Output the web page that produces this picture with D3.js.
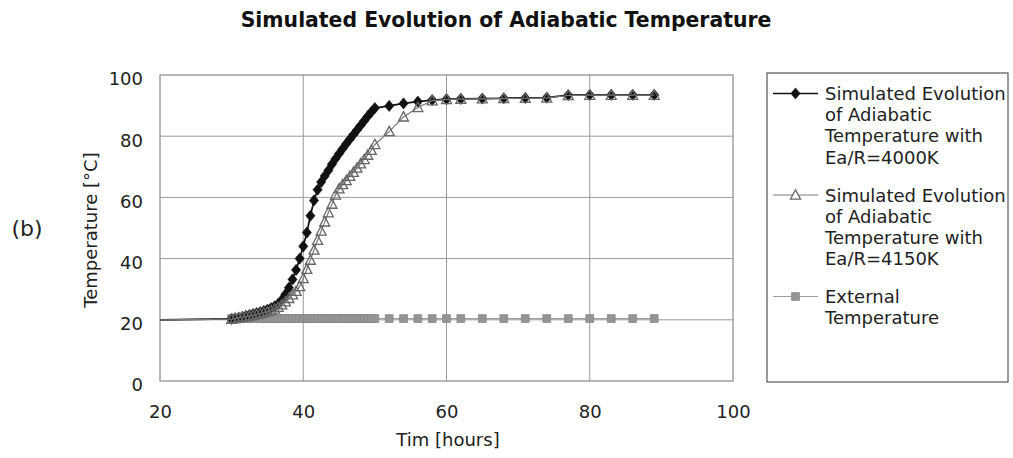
<!DOCTYPE html>
<html>
<head>
<meta charset="utf-8">
<script src="https://cdn.jsdelivr.net/npm/d3@7/dist/d3.min.js"></script>
<style>
  html, body { margin: 0; padding: 0; background: #fff; }
  svg { display: block; font-family: "DejaVu Sans", Verdana, sans-serif; }
</style>
</head>
<body>
<svg id="chart" width="1013" height="458"></svg>
<script>
// ---- data ----
const title = "Simulated Evolution of Adiabatic Temperature";
const xLabel = "Tim [hours]";
const yLabel = "Temperature [°C]";
const panelLabel = "(b)";
const xTicks = [20, 40, 60, 80, 100];
const yTicks = [0, 20, 40, 60, 80, 100];

const times = [20,
  30, 30.5, 31, 31.5, 32, 32.5, 33, 33.5, 34, 34.5, 35, 35.5, 36, 36.5, 37, 37.5, 38, 38.5, 39, 39.5,
  40, 40.5, 41, 41.5, 42, 42.5, 43, 43.5, 44, 44.5, 45, 45.5, 46, 46.5, 47, 47.5, 48, 48.5, 49, 49.5, 50,
  52, 54, 56, 58, 60, 62, 65, 68, 71, 74, 77, 80, 83, 86, 89];

const tempEa4000 = [20.0,
  20.3, 20.5, 20.7, 21.0, 21.3, 21.6, 21.9, 22.2, 22.5, 22.9, 23.3, 23.8, 24.4, 25.2, 26.5, 28.3, 30.5, 33.2, 36.3, 40.0,
  44.0, 48.5, 54.0, 59.0, 62.5, 65.0, 67.0, 68.8, 70.8, 72.6, 74.3, 75.9, 77.5, 79.0, 80.5, 82.0, 83.5, 85.0, 86.5, 87.9, 89.2,
  89.9, 90.7, 91.3, 91.8, 92.1, 92.2, 92.3, 92.4, 92.5, 92.6, 93.4, 93.5, 93.5, 93.5, 93.5];

const tempEa4150 = [20.0,
  20.2, 20.4, 20.6, 20.8, 21.0, 21.2, 21.4, 21.7, 22.0, 22.3, 22.6, 23.0, 23.5, 24.1, 24.9, 25.9, 27.0, 28.2, 29.3, 30.9,
  33.5, 36.5, 39.5, 42.8, 46.0, 49.0, 52.0, 55.0, 57.8, 60.8, 62.8, 64.2, 65.5, 66.9, 68.2, 69.6, 71.0, 72.4, 73.8, 75.4, 77.3,
  81.5, 86.3, 89.4, 91.6, 92.0, 92.1, 92.2, 92.3, 92.4, 92.5, 93.3, 93.4, 93.4, 93.4, 93.4];

const tempExternal = [20.0,
  20.4, 20.4, 20.4, 20.4, 20.4, 20.4, 20.4, 20.4, 20.4, 20.4, 20.4, 20.4, 20.4, 20.4, 20.4, 20.4, 20.4, 20.4, 20.4, 20.4,
  20.4, 20.4, 20.4, 20.4, 20.4, 20.4, 20.4, 20.4, 20.4, 20.4, 20.4, 20.4, 20.4, 20.4, 20.4, 20.4, 20.4, 20.4, 20.4, 20.4, 20.4,
  20.4, 20.4, 20.4, 20.4, 20.4, 20.4, 20.4, 20.4, 20.4, 20.4, 20.4, 20.4, 20.4, 20.4, 20.4];

const seriesNames = [
  ["Simulated Evolution", "of Adiabatic", "Temperature with", "Ea/R=4000K"],
  ["Simulated Evolution", "of Adiabatic", "Temperature with", "Ea/R=4150K"],
  ["External", "Temperature"]
];

// ---- layout ----
const svg = d3.select("#chart");
const plot = { left: 160, right: 733, top: 75, bottom: 381 };
const x = d3.scaleLinear().domain([20, 100]).range([plot.left, plot.right]);
const y = d3.scaleLinear().domain([0, 100]).range([plot.bottom, plot.top]);

const markerStart = 30; // first point (t=20) is drawn without marker

const series = [
  { values: tempEa4000, line: "#111", lw: 1.7, marker: "diamond" },
  { values: tempEa4150, line: "#7a7a7a", lw: 1.2, marker: "triangle" },
  { values: tempExternal, line: "#a0a0a0", lw: 1.2, marker: "square" }
];

function markerPath(kind) {
  if (kind === "diamond") return "M0,-5.6L4.6,0L0,5.6L-4.6,0Z";
  if (kind === "triangle") return "M0,-5.2L5,4.1L-5,4.1Z";
  return "M-3.9,-3.9H3.9V3.9H-3.9Z";
}
function markerStyle(sel, kind) {
  if (kind === "diamond") sel.attr("fill", "#111").attr("stroke", "#111").attr("stroke-width", 0.6);
  else if (kind === "triangle") sel.attr("fill", "none").attr("stroke", "#666").attr("stroke-width", 1.3);
  else sel.attr("fill", "#959595").attr("stroke", "#888").attr("stroke-width", 0.8);
}

// title
svg.append("text")
  .attr("x", 506).attr("y", 27)
  .attr("text-anchor", "middle")
  .attr("font-size", 20.4).attr("font-weight", "bold")
  .attr("fill", "#111")
  .text(title);

// gridlines
const grid = svg.append("g");
grid.selectAll("line.h").data(yTicks.filter(d => d > 0 && d < 100)).join("line")
  .attr("x1", plot.left).attr("x2", plot.right)
  .attr("y1", d => y(d)).attr("y2", d => y(d))
  .attr("stroke", "#9a9a9a").attr("stroke-width", 1);
grid.selectAll("line.v").data(xTicks.filter(d => d > 20 && d < 100)).join("line")
  .attr("y1", plot.top).attr("y2", plot.bottom)
  .attr("x1", d => x(d)).attr("x2", d => x(d))
  .attr("stroke", "#9a9a9a").attr("stroke-width", 1);

// plot border
svg.append("rect")
  .attr("x", plot.left).attr("y", plot.top)
  .attr("width", plot.right - plot.left).attr("height", plot.bottom - plot.top)
  .attr("fill", "none").attr("stroke", "#8a8a8a").attr("stroke-width", 1.2);

// axes (labels only)
const yAxis = d3.axisLeft(y).tickValues(yTicks).tickSize(0).tickPadding(17);
const yg = svg.append("g").attr("transform", `translate(${plot.left},0)`).call(yAxis);
yg.select(".domain").remove();
yg.selectAll("text").attr("font-size", 18).attr("fill", "#222")
  .attr("font-family", '"DejaVu Sans", Verdana, sans-serif').attr("dy", "0.55em");

const xAxis = d3.axisBottom(x).tickValues(xTicks).tickSize(0).tickPadding(24);
const xg = svg.append("g").attr("transform", `translate(0,${plot.bottom})`).call(xAxis);
xg.select(".domain").remove();
xg.selectAll("text").attr("font-size", 18).attr("fill", "#222")
  .attr("font-family", '"DejaVu Sans", Verdana, sans-serif');

// axis titles
svg.append("text")
  .attr("x", 448).attr("y", 446)
  .attr("text-anchor", "middle").attr("font-size", 18).attr("fill", "#222")
  .text(xLabel);
svg.append("text")
  .attr("transform", "translate(97,230) rotate(-90)")
  .attr("text-anchor", "middle").attr("font-size", 18).attr("fill", "#222")
  .text(yLabel);
svg.append("text")
  .attr("x", 27).attr("y", 236)
  .attr("text-anchor", "middle").attr("font-size", 22).attr("fill", "#222")
  .text(panelLabel);

// series
const lineGen = d3.line().x(d => x(d.t)).y(d => y(d.v));
const plotG = svg.append("g");
[2, 0, 1].forEach(i => {
  const s = series[i];
  const pts = times.map((t, k) => ({ t: t, v: s.values[k] }));
  plotG.append("path").datum(pts)
    .attr("d", lineGen).attr("fill", "none")
    .attr("stroke", s.line).attr("stroke-width", s.lw);
  const m = plotG.append("g").selectAll("path").data(pts.filter(p => p.t >= markerStart)).join("path")
    .attr("d", markerPath(s.marker))
    .attr("transform", p => `translate(${x(p.t)},${y(p.v)})`);
  markerStyle(m, s.marker);
});

// legend
const lg = svg.append("g");
lg.append("rect").attr("x", 767).attr("y", 73).attr("width", 241).attr("height", 309)
  .attr("fill", "none").attr("stroke", "#555").attr("stroke-width", 1.2);
const legendTop = [100, 201.5, 303];
const lineH = 21.2;
series.forEach((s, i) => {
  const my = legendTop[i] - 6.5;
  lg.append("line").attr("x1", 773).attr("x2", 818).attr("y1", my).attr("y2", my)
    .attr("stroke", s.line).attr("stroke-width", s.lw);
  const mk = lg.append("path").attr("d", markerPath(s.marker))
    .attr("transform", `translate(795.5,${my})`);
  markerStyle(mk, s.marker);
  if (s.marker === "triangle") mk.attr("fill", "#fff");
  seriesNames[i].forEach((txt, j) => {
    lg.append("text").attr("x", 825).attr("y", legendTop[i] + j * lineH)
      .attr("font-size", 18).attr("fill", "#222").text(txt);
  });
});
</script>
</body>
</html>
